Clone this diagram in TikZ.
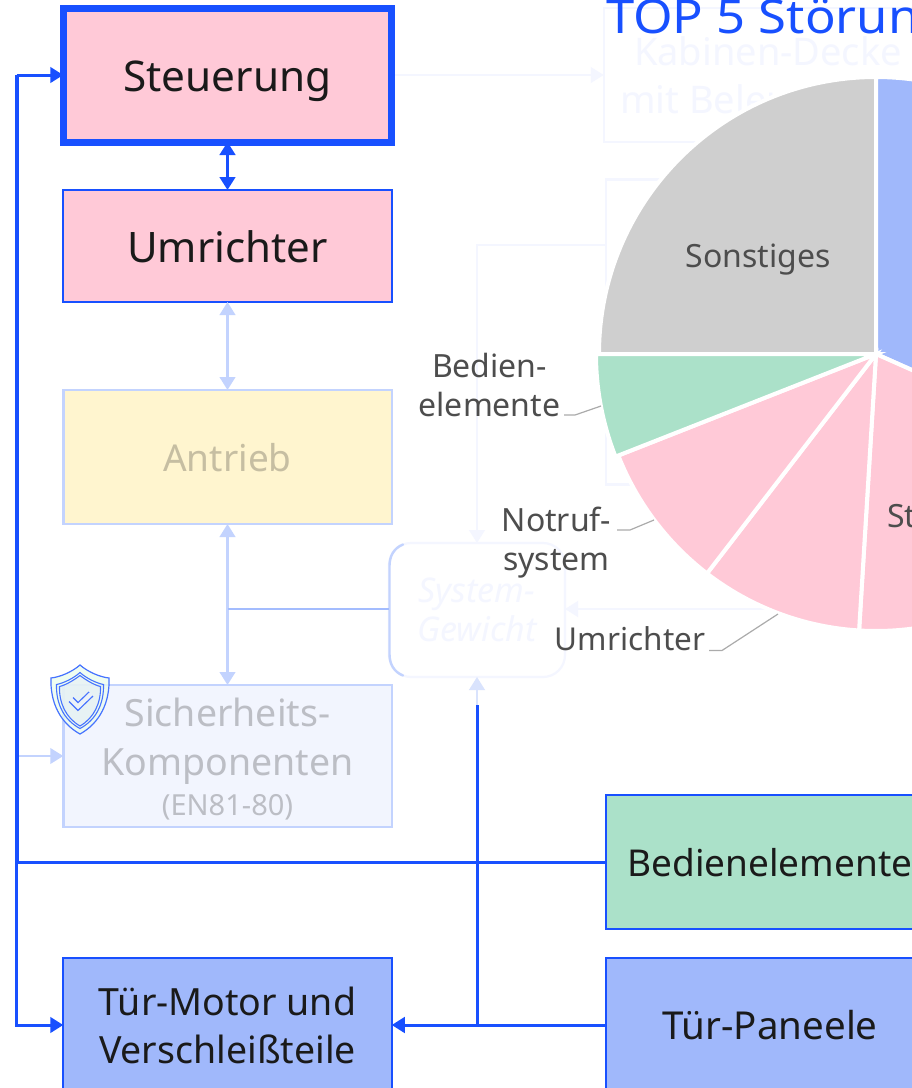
\documentclass[tikz,border=0pt]{standalone}
\usepackage{fontspec}
\setmainfont{Noto Sans}
\usetikzlibrary{arrows.meta}
\definecolor{strong}{HTML}{1850FF}
\definecolor{light}{HTML}{C3D3FE}
\definecolor{mid}{HTML}{A3BCFE}
\definecolor{pale}{HTML}{F4F6FF}
\definecolor{paleb}{HTML}{D9E3FD}
\definecolor{pinkf}{HTML}{FFC9D7}
\definecolor{greenf}{HTML}{ABE1C9}
\definecolor{bluef}{HTML}{A0B8FB}
\definecolor{yellowf}{HTML}{FFF5CF}
\definecolor{secf}{HTML}{F2F5FE}
\definecolor{greyf}{HTML}{CFCFCF}
\definecolor{ink}{HTML}{1A1A1A}
\definecolor{lab}{HTML}{4D4D4D}
\definecolor{lead}{HTML}{ABABAB}
\newcommand{\fs}[2]{\fontsize{#1}{#2}\selectfont}
\tikzset{
  x=1pt,y=-1pt,
  boxn/.style={rectangle,draw=strong,line width=2.2pt,outer sep=0pt,inner sep=0pt,text=ink,align=center,
    minimum width=328.5pt,font=\fs{37.5}{48}},
  paleboxn/.style={boxn,draw=pale,fill=white,text=pale},
  slice/.style={draw=white,line width=4pt,line join=miter},
  lbl/.style={text=lab,inner sep=0pt,outer sep=0pt,anchor=base,align=center,font=\fs{32}{39}},
  leader/.style={draw=lead,line width=1.2pt},
  conn/.style={draw=strong,line width=3pt},
  tail/.style={-{Triangle[length=13pt,width=15.5pt]}},
  both/.style={{Triangle[length=13pt,width=15.5pt]}-{Triangle[length=13pt,width=15.5pt]}},
}
\begin{document}
\begin{tikzpicture}
\useasboundingbox (0,0) rectangle (912,1088);
\fill[white] (0,0) rectangle (912,1088);
% faded boxes behind the pie
\node[paleboxn,minimum height=134pt,font=\fs{38}{48}] (kab) at (768,75) {\rule{0pt}{39pt}Kabinen-Decke\\mit Beleuchtung};
\node[paleboxn,minimum height=305pt] (box2) at (770,332) {};
\node[rectangle,rounded corners=22pt,draw=pale,fill=white!98!pale,line width=2.2pt,minimum width=176pt,minimum height=134pt,outer sep=0pt,inner sep=0pt,
  align=center,text=pale,font=\fs{34}{39}\itshape] (sys) at (477,610) {System-\\Gewicht};
\coordinate (kabIn) at (kab.west);
\coordinate (busS) at (16.5,75);
\coordinate (busM) at (16.5,862);
\coordinate (busB) at (16.5,1025);
\coordinate (sichIn) at (18,756);
\coordinate (jct) at (227.5,609);
\coordinate (sysIn) at (477,705);
\coordinate (jctB) at (477,1025);
\coordinate (boxL) at (477,245);
\coordinate (pieR) at (790,609);
\coordinate (sysR) at (565,609);
\coordinate (sysL) at (389,609);
\coordinate (steuE) at (391.5,75);
% faded connectors
\draw[draw=pale,line width=2.5pt,tail] (steuE) -- (kabIn);
\draw[draw=pale,line width=2.5pt,tail] (box2.west |- boxL) -- (boxL) -- (sys.north);
\draw[draw=pale,line width=2.5pt,tail] (pieR) -- (sysR);
\draw[draw=paleb,line width=2.5pt,tail] (sysIn) -- (sys.south);
\draw[draw=light,line width=2.4pt,line cap=round] (403,544.5) .. controls (394,548) and (389.5,556) .. (389.5,566) -- (389.5,654) .. controls (389.5,664) and (394,672) .. (403,675.5);
% main column
\node[boxn,line width=7pt,fill=pinkf,minimum height=134pt,font=\fs{42.3}{50},text height=32pt,text depth=0pt] (steu) at (227.5,75) {Steuerung};
\node[boxn,fill=pinkf,minimum height=112pt,font=\fs{42}{50},text height=32pt,text depth=0pt] (umr) at (227.5,246) {Umrichter};
\node[boxn,draw=light,line width=2.5pt,fill=yellowf,text=ink!25!yellowf,minimum height=134pt,font=\fs{37}{50},text height=28pt,text depth=0pt] (ant) at (227.5,457) {Antrieb};
\node[boxn,draw=light,line width=2.5pt,fill=secf,text=ink!25!secf,minimum height=142pt,font=\fs{37.5}{49}] (sich) at (227.5,756) {\rule{0pt}{34pt}Sicherheits-\\Komponenten\\[-9pt]{\fs{29}{30}(EN81-80)}};
\node[boxn,fill=bluef,minimum height=134pt,font=\fs{37.5}{48}] (mot) at (227.5,1025) {\rule{0pt}{30pt}Tür-Motor und\\Verschleißteile};
\node[boxn,fill=greenf,minimum height=134pt,font=\fs{37}{48},text height=28pt,text depth=0pt] (bed) at (770,862) {Bedienelemente};
\node[boxn,fill=bluef,minimum height=134pt,font=\fs{38.5}{48},text height=28pt,text depth=0pt] (pan) at (770,1025) {Tür-Paneele};
% light connectors
\draw[draw=light,line width=2.5pt,both] (umr.south) -- (ant.north);
\draw[draw=light,line width=2.5pt,both] (ant.south) -- (sich.north);
\draw[draw=mid,line width=2.5pt] (jct) -- (sysL);
\draw[draw=light,line width=2.5pt,tail] (sichIn) -- (sich.west);
% strong connectors
\draw[conn,both] (steu.south) -- (umr.north);
\draw[conn,tail] (busS) -- (steu.west);
\draw[draw=strong,line width=4pt] (busM) -- (busS);
\draw[conn] (bed.west) -- (busM);
\draw[conn,tail] (busM) -- (busB) -- (mot.west);
\draw[conn] (jctB) -- (sysIn);
\draw[conn,tail] (pan.west) -- (mot.east);
% pie
\begin{scope}[shift={(876,354)},x=1pt,y=1pt]
\draw[slice,fill=greyf] (0,0) -- (90:277pt) arc[start angle=90,end angle=180,radius=277pt] -- cycle;
\draw[slice,fill=bluef] (0,0) -- (-24:277pt) arc[start angle=-24,end angle=90,radius=277pt] -- cycle;
\draw[slice,fill=pinkf] (0,0) -- (266.5:277pt) arc[start angle=266.5,end angle=336,radius=277pt] -- cycle;
\draw[slice,fill=pinkf] (0,0) -- (232.4:277pt) arc[start angle=232.4,end angle=266.5,radius=277pt] -- cycle;
\draw[slice,fill=pinkf] (0,0) -- (201.5:277pt) arc[start angle=201.5,end angle=232.4,radius=277pt] -- cycle;
\draw[slice,fill=greenf] (0,0) -- (180:280pt) arc[start angle=180,end angle=201.5,radius=280pt] -- cycle;
\end{scope}
% pie labels
\node[lbl] (lSon) at (758,267) {Sonstiges};
\node[lbl] (lSt) at (966,527) {Steuerung};
\node[lbl] (lBed1) at (489.5,377) {Bedien-};
\node[lbl] (lBed2) at (489.5,416) {elemente};
\node[lbl] (lNot1) at (556.5,531) {Notruf-};
\node[lbl] (lNot2) at (556.5,570) {system};
\node[lbl,font=\fs{31.5}{39}] (lUmr) at (630,650) {Umrichter};
\coordinate (a1) at (564,415); \coordinate (a2) at (575,415); \coordinate (a3) at (601,406);
\coordinate (b1) at (617,530); \coordinate (b2) at (630,530); \coordinate (b3) at (654,520);
\coordinate (c1) at (709,650.5); \coordinate (c2) at (722,650.5); \coordinate (c3) at (778,614);
\draw[leader] (a1) -- (a2) -- (a3);
\draw[leader] (b1) -- (b2) -- (b3);
\draw[leader] (c1) -- (c2) -- (c3);
\node[inner sep=0pt,outer sep=0pt,anchor=base west,text=strong,font=\fs{47}{50},xscale=1.08,transform shape] (title) at (606,33) {TOP 5 Störungen};
% shield
\path[fill=light!40!green!12!white,fill opacity=.75,draw=strong!80!white,line width=1.2pt]
  (80,665) .. controls (72,672) and (60,677) .. (51,678) .. controls (50,702) and (60,723) .. (80,734)
  .. controls (100,723) and (110,702) .. (109,678) .. controls (100,677) and (88,672) .. (80,665) -- cycle;
\path[draw=strong!80!white,line width=1.1pt]
  (80,672.5) .. controls (74,678) and (64,683) .. (56.5,684.5) .. controls (56,704) and (64,720) .. (80,728.5)
  .. controls (96,720) and (104,704) .. (103.5,684.5) .. controls (96,683) and (86,678) .. (80,672.5) -- cycle;
\path[fill=green!35!blue!10!white,fill opacity=.6,draw=strong!80!white,line width=1.1pt]
  (80,675.5) .. controls (74,680) and (66,685) .. (59.5,686.5) .. controls (59,703) and (66,718) .. (80,726)
  .. controls (94,718) and (101,703) .. (100.5,686.5) .. controls (94,685) and (86,680) .. (80,675.5) -- cycle;
\draw[draw=strong!80!white,line width=6.8pt,line join=miter] (71,699.5) -- (78,706.5) -- (91,694);
\draw[draw=green!35!blue!8!white,line width=4.2pt,line join=miter] (70.5,699) -- (78,706.5) -- (91.5,693.5);
\end{tikzpicture}
\end{document}
